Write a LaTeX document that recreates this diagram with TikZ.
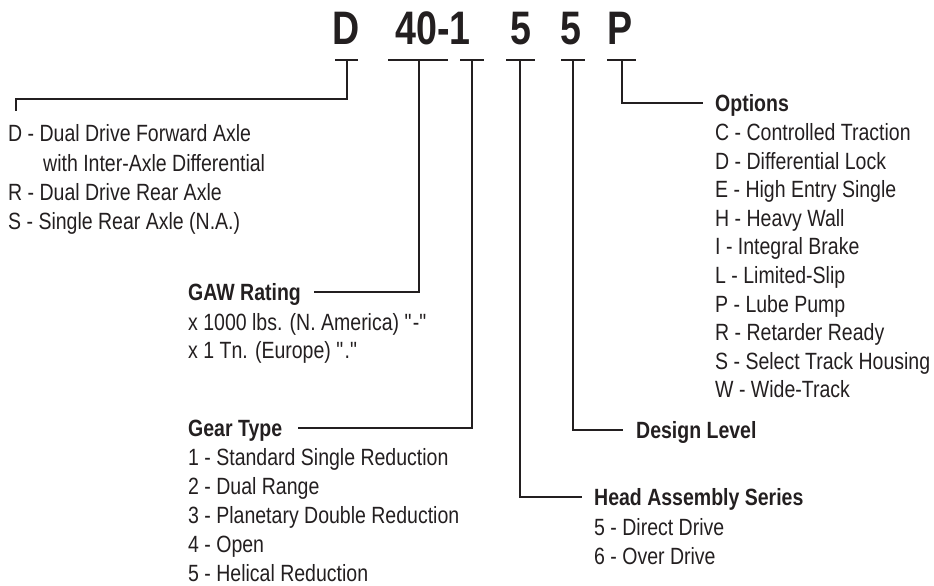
\documentclass[tikz,border=0pt]{standalone}
\usepackage{fontspec}
\setmainfont[FakeStretch=0.83]{Liberation Sans}
\newfontfamily\codefam[FakeStretch=0.8]{Liberation Sans}
\usetikzlibrary{calc}
\definecolor{ink}{HTML}{231F20}
\begin{document}
\begin{tikzpicture}[x=1pt,y=-1pt,
  txt/.style={anchor=base west, inner sep=0pt, text=ink, font=\fontsize{23.5}{28}\selectfont},
  ttl/.style={anchor=base west, inner sep=0pt, text=ink, font=\fontsize{23.5}{28}\selectfont\bfseries},
  code/.style={anchor=base, inner sep=0pt, text=ink, font=\codefam\fontsize{47}{50}\selectfont\bfseries},
  link/.style={draw=ink, line width=2.6pt, line join=miter}]
\useasboundingbox (0,0) rectangle (934,586);
% code letters
\node[code] (cD)  at (346,45) {D};
\node[code] (c40) at (433,45) {40-1};
\node[code] (c5a) at (521,45) {5};
\node[code] (c5b) at (571,45) {5};
\node[code] (cP)  at (620,45) {P};
% bars under the code
\coordinate (bD1) at (335,60);  \coordinate (bD2) at (358,60);  \coordinate (bDm) at (347,60);
\coordinate (b401) at (388,60); \coordinate (b402) at (448,60); \coordinate (b40m) at (419,60);
\coordinate (b11) at (460,60);  \coordinate (b12) at (484,60);  \coordinate (b1m) at (472,60);
\coordinate (b5a1) at (506,60); \coordinate (b5a2) at (535,60); \coordinate (b5am) at (520,60);
\coordinate (b5b1) at (561,60); \coordinate (b5b2) at (585,60); \coordinate (b5bm) at (573,60);
\coordinate (bP1) at (607,60);  \coordinate (bP2) at (636,60);  \coordinate (bPm) at (622,60);
\foreach \b in {D,40,1,5a,5b,P} \draw[link] (b\b1) -- (b\b2);
% left block (D / R / S)
\node[txt] (dD) at (8,141.5) {D - Dual Drive Forward Axle};
\node[txt] (dW) at (43,171) {with Inter-Axle Differential};
\node[txt] (dR) at (8,200.5) {R - Dual Drive Rear Axle};
\node[txt] (dS) at (8,229.5) {S - Single Rear Axle (N.A.)};
% GAW rating
\node[ttl] (gaw) at (188,300.5) {GAW Rating};
\node[txt] (gaw1) at (188,330.5) {x 1000 lbs. (N. America) \textquotedbl-\textquotedbl};
\node[txt] (gaw2) at (188,358.5) {x 1 Tn. (Europe) \textquotedbl.\textquotedbl};
% Gear type
\node[ttl] (gear) at (188,436.5) {Gear Type};
\foreach \t [count=\i] in {1 - Standard Single Reduction, 2 - Dual Range, 3 - Planetary Double Reduction, 4 - Open, 5 - Helical Reduction}
  \node[txt] (gear\i) at (188,{465.5+28.9*(\i-1)}) {\t};
% Head assembly series
\node[ttl] (head) at (594,505.5) {Head Assembly Series};
\node[txt] (head1) at (594,535.5) {5 - Direct Drive};
\node[txt] (head2) at (594,564.5) {6 - Over Drive};
% Design level
\node[ttl] (design) at (636,438.5) {Design Level};
% Options
\node[ttl] (opt) at (715,111.5) {Options};
\foreach \t [count=\i] in {C - Controlled Traction, D - Differential Lock, E - High Entry Single, H - Heavy Wall, I - Integral Brake, L - Limited-Slip, P - Lube Pump, R - Retarder Ready, S - Select Track Housing, W - Wide-Track}
  \node[txt] (opt\i) at (715,{140.5+28.6*(\i-1)}) {\t};
% connectors
\coordinate (Dturn) at (347,99);
\coordinate (Dend) at (16,111);
\draw[link] (bDm) -- (Dturn) -| (Dend);
\draw[link] (b40m) |- ([xshift=13pt,yshift=8.5pt]gaw.base east);
\draw[link] (b1m) |- ([xshift=16pt,yshift=8.5pt]gear.base east);
\draw[link] (b5am) |- ([xshift=-12pt,yshift=8.5pt]head.base west);
\draw[link] (b5bm) |- ([xshift=-13pt,yshift=8.5pt]design.base west);
\draw[link] (bPm) |- ([xshift=-12pt,yshift=8.5pt]opt.base west);
\end{tikzpicture}
\end{document}
